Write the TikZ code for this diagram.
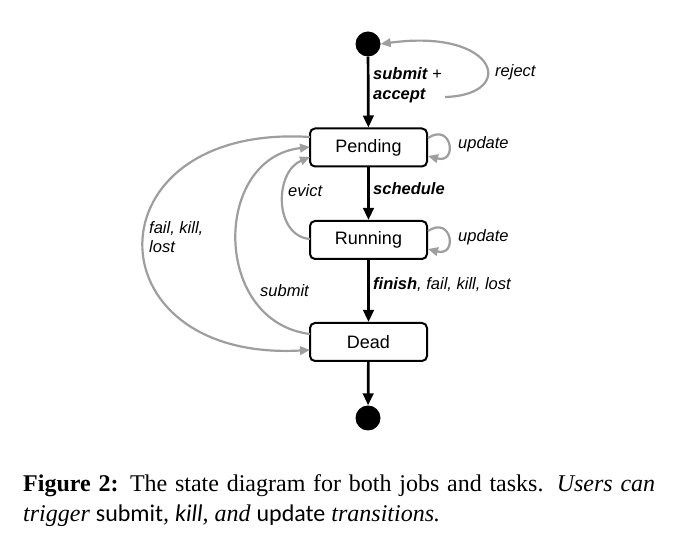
\documentclass[tikz,border=0pt]{standalone}
\usepackage{fontspec}
\setmainfont{Liberation Serif}
\newfontfamily\arialf{Liberation Sans}
\newfontfamily\carlitof{Carlito}
\usetikzlibrary{arrows.meta}
\definecolor{edgegray}{RGB}{158,158,158}
\tikzset{
  statebox/.style={draw=black, line width=2pt, rounded corners=5pt, fill=white,
    minimum width=117pt, minimum height=38pt, inner sep=0pt,
    font=\arialf\fontsize{18}{20}\selectfont},
  dotnode/.style={circle, fill=black, minimum size=25pt, inner sep=0pt},
  mainarrow/.style={draw=black, line width=2.7pt, -{Triangle[length=12pt,width=10.5pt]}},
  grayarrow/.style={draw=edgegray, line width=2.2pt, -{Triangle[length=10pt,width=8.5pt]}},
  lbl/.style={inner sep=0pt, anchor=base west, font=\arialf\itshape\fontsize{16.5}{19}\selectfont},
  blbl/.style={lbl, font=\arialf\bfseries\itshape\fontsize{16.5}{19}\selectfont}
}
\begin{document}
\begin{tikzpicture}[x=1pt,y=-1pt]
\useasboundingbox (0,0) rectangle (681,537);
\fill[white] (0,0) rectangle (681,537);

% nodes
\node[dotnode] (start) at (368,44) {};
\node[statebox] (pend) at (368.5,147.5) {Pending};
\node[statebox] (run) at (368.5,240) {Running};
\node[statebox] (dead) at (368.5,342) {Dead};
\node[dotnode] (end) at (368,418) {};

% main arrows
\draw[mainarrow] (start) -- (pend);
\draw[mainarrow] (pend) -- (run);
\draw[mainarrow] (run) -- (dead);
\draw[mainarrow] (dead) -- (end);

% gray arrows
\coordinate (rj) at (445,97);
\draw[grayarrow] (rj) .. controls (518,95) and (498,28) .. (start.east);
\coordinate (pa) at (428,138);
\coordinate (pb) at (428,156);
\draw[grayarrow] (pa) .. controls (452,122) and (458,164) .. (pb);
\coordinate (ra) at (428,231);
\coordinate (rb) at (428,249);
\draw[grayarrow] (ra) .. controls (452,215) and (458,257) .. (rb);
\coordinate (ev1) at (310,239);
\coordinate (ev2) at (310,157);
\draw[grayarrow] (ev1) .. controls (274,236) and (274,172) .. (ev2);
\coordinate (sb1) at (310,334);
\coordinate (sb2) at (310,147);
\draw[grayarrow] (sb1) .. controls (212,322) and (212,158) .. (sb2);
\coordinate (fk1) at (310,137);
\coordinate (fk2) at (310,350);
\draw[grayarrow] (fk1) .. controls (88,123) and (88,362) .. (fk2);

% labels
\node[blbl] (l1) at (373,80) {submit \textup{\normalfont\arialf\fontsize{16.5}{19}\selectfont+}};
\node[blbl] (l2) at (373,100) {accept};
\node[lbl] (l3) at (495,77) {reject};
\node[lbl] (l4) at (458,149) {update};
\node[blbl] (l5) at (373,195) {schedule};
\node[lbl] (l6) at (458,242) {update};
\node[lbl] (l7) at (288,197) {evict};
\node[lbl] (l8) at (149,234) {fail, kill,};
\node[lbl] (l9) at (149,253) {lost};
\node[lbl] (l10) at (260,297) {submit};
\node[lbl] (l11) at (373,290) {\textbf{finish}, fail, kill, lost};

% caption
\node[inner sep=0pt, anchor=base west, text width=632pt, align=justify,
  font=\fontsize{24}{30}\selectfont] (cap) at (23,492)
  {\textbf{Figure 2:} The state diagram for both jobs and tasks. \textit{Users can\linebreak trigger {\carlitof\upshape submit}, {\carlitof\itshape kill}, and {\carlitof\upshape update} transitions.}};
\end{tikzpicture}
\end{document}
